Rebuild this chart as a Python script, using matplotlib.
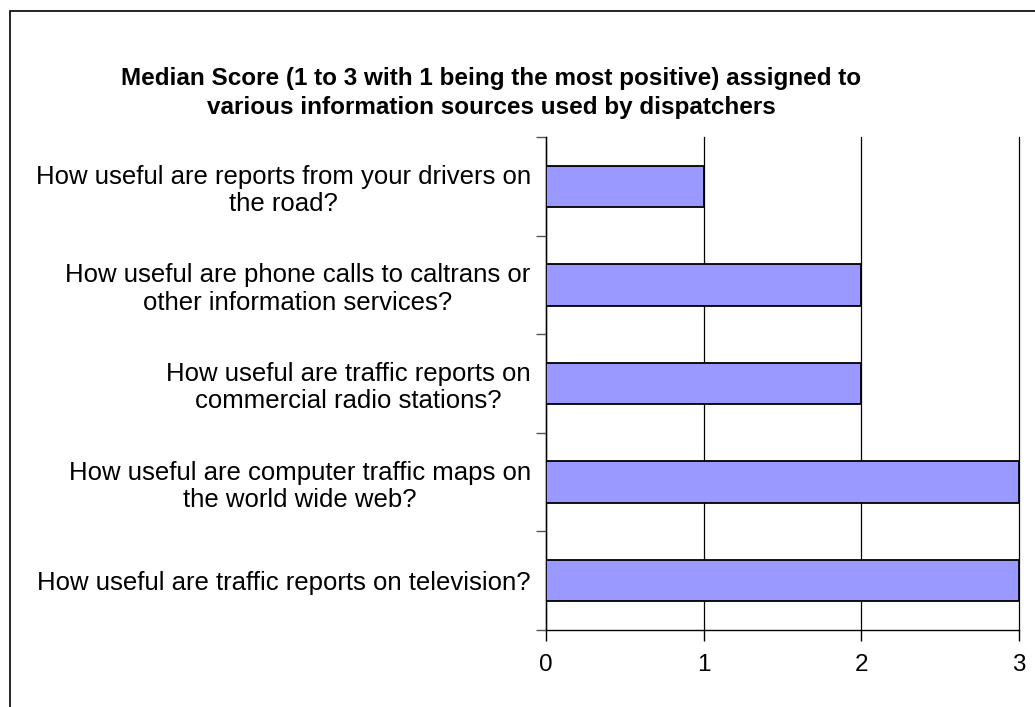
import matplotlib
matplotlib.use("Agg")
import matplotlib.pyplot as plt
from matplotlib.patches import Rectangle
import numpy as np

plt.rcParams['font.family'] = ['Liberation Sans', 'DejaVu Sans']

categories = [
    "How useful are reports from your drivers on\nthe road?",
    "How useful are phone calls to caltrans or\nother information services?",
    "How useful are traffic reports on\ncommercial radio stations?",
    "How useful are computer traffic maps on\nthe world wide web?",
    "How useful are traffic reports on television?",
]
scores = [1, 2, 2, 3, 3]
x_ticks = [0, 1, 2, 3]
title = ("Median Score (1 to 3 with 1 being the most positive) assigned to\n"
         "various information sources used by dispatchers")

fig = plt.figure(figsize=(10.35, 7.07), dpi=100)
fig.patch.set_facecolor('white')
# outer chart border
fig.add_artist(Rectangle((10/1035, -0.05), 1.2, 1 - 11/707 + 0.05,
                         transform=fig.transFigure, fill=False,
                         edgecolor='black', linewidth=1.2))

ax = fig.add_axes([546/1035, 1 - 630/707, 473/1035, 493/707])
y = np.arange(len(categories))
ax.barh(y, scores, height=0.42, color='#9999FF', edgecolor='black',
        linewidth=1.3, zorder=3)
ax.set_xlim(0, 3)
ax.set_ylim(len(categories) - 0.5, -0.5)

ax.set_xticks(x_ticks)
ax.set_xticklabels([str(t) for t in x_ticks], fontsize=17.5)
ax.tick_params(axis='x', direction='out', length=8, width=1, pad=9)
ax.grid(axis='x', color='black', linewidth=0.9, zorder=0)
for gl in ax.get_xgridlines():
    gl.set_clip_on(False)

ax.set_yticks(y)
ax.set_yticklabels(categories, fontsize=18.5, ha='right',
                   multialignment='center', linespacing=1.17)
ax.tick_params(axis='y', which='major', length=0, pad=11)
ax.set_yticks(np.arange(-0.5, len(categories) + 0.5, 1), minor=True)
ax.tick_params(axis='y', which='minor', direction='out', length=7, width=1, color='#555555')

for s in ['top', 'right']:
    ax.spines[s].set_visible(False)
ax.spines['left'].set_linewidth(1)
ax.spines['bottom'].set_linewidth(1)

fig.text(491/1035, 1 - 93/707, title, ha='center', va='center',
         fontsize=17.5, fontweight='bold', linespacing=1.38)

fig.savefig('out.png', dpi=100)
